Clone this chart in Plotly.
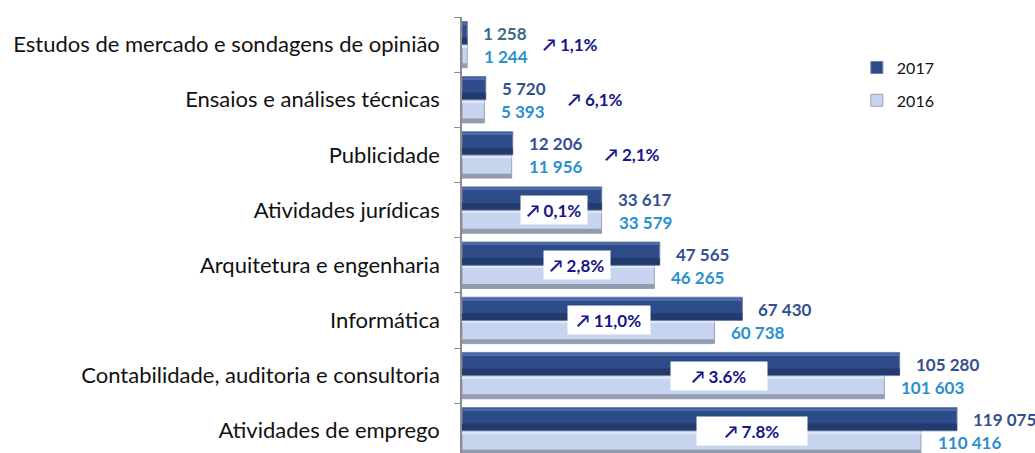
import plotly.graph_objects as go

# Data (listed bottom -> top, as drawn)
categories = [
    "Atividades de emprego",
    "Contabilidade, auditoria e consultoria",
    "Informática",
    "Arquitetura e engenharia",
    "Atividades jurídicas",
    "Publicidade",
    "Ensaios e análises técnicas",
    "Estudos de mercado e sondagens de opinião",
]
values_2017 = [119075, 105280, 67430, 47565, 33617, 12206, 5720, 1258]
values_2016 = [110416, 101603, 60738, 46265, 33579, 11956, 5393, 1244]
labels_2017 = ["119 075", "105 280", "67 430", "47 565", "33 617", "12 206", "5 720", "1 258"]
labels_2016 = ["110 416", "101 603", "60 738", "46 265", "33 579", "11 956", "5 393", "1 244"]
pct_labels = ["↗ 7.8%", "↗ 3.6%", "↗ 11,0%", "↗ 2,8%", "↗ 0,1%", "↗ 2,1%", "↗ 6,1%", "↗ 1,1%"]

# Label placement (data-unit anchors for the change labels, and whether boxed)
pct_anchor = [69800, 61800, 35400, 27700, 22100, 40900, 32200, 26000]
pct_boxed = [True, True, True, True, True, False, False, False]
pct_box_w = [110, 96, 82, 66, 66, None, None, None]

FONT = "Lato"
BW = 0.42  # bar thickness in category units


def bar(x, name, color, offset, width, show=False, rank=None, line=None, group=None):
    return go.Bar(
        y=categories, x=x, orientation="h", name=name,
        marker=dict(color=color, line=line or dict(width=0)),
        offset=offset, width=width, showlegend=show,
        legendrank=rank if rank else 1000, legendgroup=group or name,
        hoverinfo="skip",
    )


fig = go.Figure()
# 2016 (light) below the category centre
fig.add_trace(bar(values_2016, "2016", "#c6d4ef", -BW, BW, True, 2,
                  dict(color="#9aa2b4", width=1), "g2016"))
fig.add_trace(bar(values_2016, "2016s", "#939bae", -BW, 0.08))
fig.add_trace(bar(values_2016, "2016h", "#dfe7f8", -0.045, 0.035))
# 2017 (dark) above the category centre
fig.add_trace(bar(values_2017, "2017", "#2e4b8a", 0, BW, True, 1,
                  dict(color="#6f7f9f", width=1), "g2017"))
fig.add_trace(bar(values_2017, "2017s", "#223a6c", 0.01, 0.12))
fig.add_trace(bar(values_2017, "2017h", "#4d6cab", BW - 0.05, 0.035))

annotations = []
for i, cat in enumerate(categories):
    col17 = "#3b6a85" if i == len(categories) - 1 else "#34508f"
    annotations.append(dict(
        x=values_2017[i], y=cat, xref="x", yref="y", text=f"<b>{labels_2017[i]}</b>",
        showarrow=False, xanchor="left", xshift=14, yshift=11,
        font=dict(family=FONT, size=17, color=col17),
    ))
    annotations.append(dict(
        x=values_2016[i], y=cat, xref="x", yref="y", text=f"<b>{labels_2016[i]}</b>",
        showarrow=False, xanchor="left", xshift=16, yshift=-12, borderpad=0,
        font=dict(family=FONT, size=17, color="#2b8fd0"),
    ))
    a = dict(
        x=pct_anchor[i], y=cat, xref="x", yref="y", text=f"<b>{pct_labels[i]}</b>",
        showarrow=False, xanchor="center",
        font=dict(family=FONT, size=17, color="#16168a"),
    )
    if pct_boxed[i]:
        a.update(bgcolor="white", width=pct_box_w[i], height=28, borderpad=0)
    annotations.append(a)

fig.update_layout(
    width=1035, height=453,
    margin=dict(l=462, r=20, t=17, b=0),
    paper_bgcolor="white", plot_bgcolor="white",
    barmode="overlay",
    font=dict(family=FONT, size=22, color="#1a1a1a"),
    xaxis=dict(range=[0, 133030], visible=False, showgrid=False, zeroline=False),
    yaxis=dict(
        categoryorder="array", categoryarray=categories,
        range=[-0.403, 7.5], showline=True, linecolor="#8c8c8c", linewidth=1.5,
        ticks="outside", ticklen=6, tickcolor="#8c8c8c", tickson="boundaries",
        ticklabelstandoff=16, showgrid=False, zeroline=False,
        tickfont=dict(family=FONT, size=22, color="#111111"),
    ),
    legend=dict(
        x=0.714, y=0.923, xanchor="left", yanchor="top",
        traceorder="grouped", itemwidth=30,
        font=dict(family=FONT, size=16, color="#111111"),
        bgcolor="rgba(0,0,0,0)", tracegroupgap=9,
    ),
    annotations=annotations,
    showlegend=True,
)

fig.write_html("out.html", config={"displayModeBar": False},
               post_script="document.body.style.margin='0';")
